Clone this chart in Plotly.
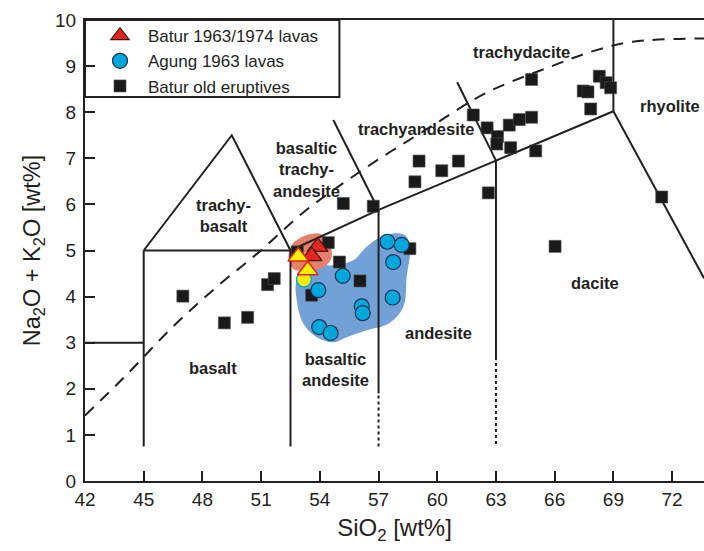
import plotly.graph_objects as go

# ---------------- data ----------------
old_x = [47.0, 49.12, 50.31, 51.33, 51.67, 52.85, 53.58, 54.43, 55.0, 56.05, 55.2, 56.73,
         58.6, 58.86, 59.07, 60.23, 61.08, 61.84, 62.55, 63.08, 63.04, 62.61, 63.75, 63.68,
         64.19, 64.82, 65.03, 64.82, 66.02, 67.46, 67.7, 67.84, 68.28, 68.63, 68.86, 71.47]
old_y = [4.01, 3.43, 3.55, 4.26, 4.39, 4.97, 4.03, 5.17, 4.75, 4.34, 6.02, 5.96,
         5.04, 6.49, 6.94, 6.73, 6.94, 7.94, 7.66, 7.47, 7.31, 6.25, 7.23, 7.72,
         7.84, 7.89, 7.16, 8.71, 5.09, 8.46, 8.44, 8.07, 8.78, 8.64, 8.53, 6.16]

agung_x = [55.17, 53.92, 56.14, 56.19, 53.97, 54.55, 57.45, 58.18, 57.75, 57.72]
agung_y = [4.45, 4.14, 3.79, 3.64, 3.34, 3.21, 5.19, 5.12, 4.75, 3.98]

batur_x = [53.89, 53.58]
batur_y = [5.08, 4.88]

batur_hl_x = [52.9, 53.38]
batur_hl_y = [4.87, 4.57]

agung_hl_x = [53.19]
agung_hl_y = [4.37]

# shaded envelopes
agung_env_x = [52.82, 52.82, 53.16, 53.84, 54.69, 55.37, 56.39, 57.5, 58.26, 58.44, 58.61,
               58.35, 57.75, 57.07, 56.39, 55.71, 54.69, 53.5, 52.82]
agung_env_y = [4.35, 3.92, 3.41, 3.12, 3.01, 3.12, 3.27, 3.41, 3.77, 4.43, 5.11,
               5.33, 5.37, 5.29, 5.08, 4.79, 4.68, 4.68, 4.35]
batur_env_x = [52.4, 52.6, 53.3, 54.05, 54.5, 54.6, 54.2, 53.3, 52.65, 52.4]
batur_env_y = [4.86, 5.14, 5.33, 5.36, 5.13, 4.85, 4.64, 4.56, 4.6, 4.86]

# TAS field boundaries (solid)
X_MAX = 73.63
solid_lines = [
    ([42, 45], [3, 3]),
    ([45, 45], [0.75, 5]),
    ([45, 52.5], [5, 5]),
    ([45, 49.5, 52.5], [5, 7.5, 5]),
    ([52.5, 52.5], [0.75, 5]),
    ([52.5, 57, 63, 69], [5, 5.88, 6.95, 8.02]),
    ([57, 57], [1.9, 5.88]),
    ([63, 63], [2.62, 6.95]),
    ([57, 54.69], [5.88, 7.83]),
    ([63, 61.02], [6.95, 8.65]),
    ([69, 69], [8.02, 10]),
    ([69, X_MAX], [8.02, 4.4]),
]
dotted_lines = [
    ([57, 57], [0.75, 1.9]),
    ([63, 63], [0.8, 2.62]),
]
# alkaline / subalkaline divide
alk_x = [42, 44, 46.5, 48.7, 50.9, 53.2, 56.4, 59.8, 62.5, 65.8, 68, 70, X_MAX]
alk_y = [1.42, 2.25, 3.35, 4.2, 4.97, 5.84, 6.81, 7.72, 8.42, 8.99, 9.33, 9.53, 9.6]

field_names = ["trachydacite", "rhyolite", "trachyandesite",
               "basaltic<br>trachy-<br>andesite", "trachy-<br>basalt", "basalt",
               "basaltic<br>andesite", "andesite", "dacite"]
field_x = [64.3, 71.87, 58.9, 53.32, 49.1, 48.54, 54.8, 60.04, 68.06]
field_y = [9.3, 8.13, 7.63, 6.76, 5.77, 2.46, 2.42, 3.2, 4.29]

x_ticks = [42, 45, 48, 51, 54, 57, 60, 63, 66, 69, 72]
y_ticks = [0, 1, 2, 3, 4, 5, 6, 7, 8, 9, 10]

INK = "#231f20"
FONT = "Liberation Sans, Arial, sans-serif"

fig = go.Figure()

fig.add_trace(go.Scatter(x=agung_env_x, y=agung_env_y, mode="lines", fill="toself",
                         fillcolor="#72a1d8", line=dict(width=0, shape="spline", smoothing=1),
                         showlegend=False, hoverinfo="skip"))
fig.add_trace(go.Scatter(x=batur_env_x, y=batur_env_y, mode="lines", fill="toself",
                         fillcolor="#e5806c", line=dict(width=0, shape="spline", smoothing=1),
                         showlegend=False, hoverinfo="skip"))

for xs, ys in solid_lines:
    fig.add_trace(go.Scatter(x=xs, y=ys, mode="lines", line=dict(color=INK, width=2),
                             showlegend=False, hoverinfo="skip"))
for xs, ys in dotted_lines:
    fig.add_trace(go.Scatter(x=xs, y=ys, mode="lines",
                             line=dict(color=INK, width=2, dash="3px,3px"),
                             showlegend=False, hoverinfo="skip"))
fig.add_trace(go.Scatter(x=alk_x, y=alk_y, mode="lines",
                         line=dict(color=INK, width=2, dash="12px,9px", shape="spline"),
                         showlegend=False, hoverinfo="skip"))

fig.add_trace(go.Scatter(x=old_x, y=old_y, mode="markers", name="Batur old eruptives",
                         marker=dict(symbol="square", size=12, color="#1a1a1a",
                                     line=dict(width=0.6, color="#4a4a4a")),
                         legendrank=3))
fig.add_trace(go.Scatter(x=agung_x, y=agung_y, mode="markers", name="Agung 1963 lavas",
                         marker=dict(symbol="circle", size=15, color="#00a7dc",
                                     line=dict(width=1.2, color="#1d3550")),
                         legendrank=2))
fig.add_trace(go.Scatter(x=agung_hl_x, y=agung_hl_y, mode="markers", name="Agung 1963 (highlighted)",
                         marker=dict(symbol="circle", size=15, color="#ffec00",
                                     line=dict(width=1.5, color="#00a7dc")),
                         showlegend=False))
fig.add_trace(go.Scatter(x=batur_x, y=batur_y, mode="markers", name="Batur 1963/1974 lavas",
                         marker=dict(symbol="triangle-up", size=18, color="#e3261c",
                                     line=dict(width=1.2, color="#4a1810")),
                         legendrank=1))
fig.add_trace(go.Scatter(x=batur_hl_x, y=batur_hl_y, mode="markers", name="Batur (highlighted)",
                         marker=dict(symbol="triangle-up", size=18, color="#fff100",
                                     line=dict(width=1.5, color="#e3261c")),
                         showlegend=False))

for name, fx, fy in zip(field_names, field_x, field_y):
    fig.add_annotation(x=fx, y=fy, text="<b>" + name + "</b>", showarrow=False,
                       font=dict(family=FONT, size=16.5, color=INK), align="center")

# legend frame
fig.add_shape(type="rect", xref="x", yref="y", x0=42, x1=55.0, y0=8.33, y1=10,
              line=dict(color=INK, width=2), layer="above")

fig.update_layout(
    width=704, height=551,
    margin=dict(l=85, r=0, t=20, b=70),
    paper_bgcolor="white", plot_bgcolor="white",
    font=dict(family=FONT, color=INK),
    showlegend=True,
    legend=dict(x=(92 - 85) / 619, y=1.004, xanchor="left", yanchor="top",
                bgcolor="rgba(0,0,0,0)", borderwidth=0, itemwidth=46,
                font=dict(family=FONT, size=17, color=INK)),
    xaxis=dict(range=[42, X_MAX], tickvals=x_ticks, ticks="inside", ticklen=10, tickwidth=1.6,
               tickcolor=INK, showline=True, linecolor=INK, linewidth=2, mirror=True,
               showgrid=False, zeroline=False, ticklabelstandoff=0,
               tickfont=dict(family=FONT, size=19, color=INK),
               title=dict(text="SiO<sub>2</sub> [wt%]", font=dict(family=FONT, size=24, color=INK),
                          standoff=10)),
    yaxis=dict(range=[0, 10], tickvals=y_ticks, ticks="inside", ticklen=10, tickwidth=1.6,
               tickcolor=INK, showline=True, linecolor=INK, linewidth=2,
               showgrid=False, zeroline=False, ticklabelstandoff=3,
               tickfont=dict(family=FONT, size=19, color=INK),
               title=dict(text="Na<sub>2</sub>O + K<sub>2</sub>O [wt%]",
                          font=dict(family=FONT, size=23.5, color=INK), standoff=8)),
)

fig.write_html("out.html", config={"displayModeBar": False},
               post_script="document.body.style.margin='0px';document.body.style.overflow='hidden';")
